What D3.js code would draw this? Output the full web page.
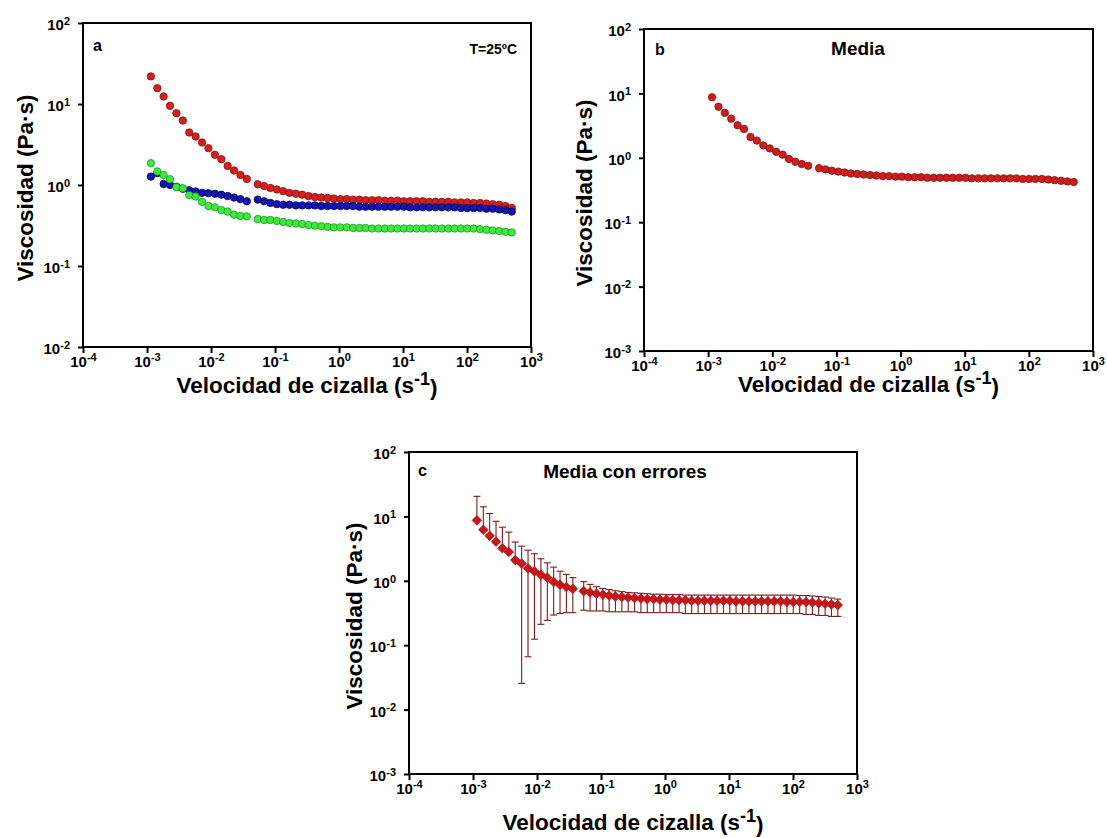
<!DOCTYPE html>
<html>
<head>
<meta charset="utf-8">
<script src="https://cdn.jsdelivr.net/npm/d3@7"></script>
<style>
  body { margin: 0; background: #fff; }
  svg text { font-family: "Liberation Sans", Arial, sans-serif; font-weight: bold; fill: #000; }
</style>
</head>
<body>
<svg id="fig" width="1107" height="838"></svg>
<script>
// Shear rate (1/s): low-rate sweep followed by the main sweep
const shearRate = [
  0.00115, 0.00145, 0.00182, 0.00229, 0.00288, 0.00363, 0.00457, 0.00575,
  0.00724, 0.00912, 0.0115, 0.0145, 0.0182, 0.0229, 0.0288, 0.0363,
  0.0537, 0.0675, 0.0849, 0.107, 0.134, 0.168, 0.212, 0.266, 0.334, 0.420,
  0.528, 0.663, 0.834, 1.05, 1.32, 1.66, 2.08, 2.61, 3.29, 4.13, 5.19, 6.52,
  8.20, 10.3, 12.9, 16.3, 20.5, 25.7, 32.3, 40.6, 51.0, 64.1, 80.5, 101,
  127, 160, 201, 252, 318, 399, 501
];

// Viscosity (Pa·s) of the three samples
const etaRed = [
  21.9, 15.7, 12.4, 9.5, 7.7, 6.25, 4.45, 3.97, 3.35, 2.85, 2.36, 2.08, 1.72, 1.51, 1.33, 1.19,
  1.02, 0.97, 0.92, 0.88, 0.84, 0.80, 0.78, 0.76, 0.73, 0.71, 0.70, 0.69, 0.68, 0.67, 0.67,
  0.66, 0.66, 0.65, 0.65, 0.65, 0.64, 0.64, 0.64, 0.63, 0.63, 0.63, 0.63, 0.62, 0.62, 0.62,
  0.62, 0.61, 0.61, 0.61, 0.60, 0.60, 0.59, 0.58, 0.57, 0.55, 0.52
];
const etaBlue = [
  1.27, 1.40, 1.03, 1.00, 0.95, 0.90, 0.86, 0.83, 0.80, 0.79, 0.78, 0.76, 0.73, 0.70, 0.67, 0.63,
  0.66, 0.63, 0.60, 0.58, 0.57, 0.57, 0.56, 0.56, 0.56, 0.56, 0.55, 0.55, 0.55, 0.55, 0.55,
  0.55, 0.54, 0.54, 0.54, 0.54, 0.54, 0.54, 0.54, 0.54, 0.53, 0.53, 0.53, 0.53, 0.53, 0.53,
  0.53, 0.53, 0.52, 0.52, 0.52, 0.52, 0.51, 0.51, 0.50, 0.49, 0.47
];
const etaGreen = [
  1.86, 1.47, 1.33, 1.18, 0.94, 0.91, 0.75, 0.72, 0.62, 0.55, 0.53, 0.49, 0.47, 0.43, 0.415, 0.41,
  0.38, 0.37, 0.37, 0.36, 0.35, 0.34, 0.335, 0.33, 0.32, 0.315, 0.31, 0.305, 0.30, 0.30, 0.30,
  0.295, 0.295, 0.295, 0.29, 0.29, 0.29, 0.29, 0.29, 0.29, 0.29, 0.29, 0.29, 0.29, 0.29, 0.29,
  0.29, 0.29, 0.29, 0.29, 0.29, 0.285, 0.28, 0.275, 0.27, 0.265, 0.26
];

// Mean viscosity and the ends of its error bars (null: lower end below zero)
const etaMean = [
  8.7, 6.2, 5.0, 4.05, 3.2, 2.8, 2.1, 1.85, 1.56, 1.4, 1.24, 1.12, 0.96, 0.87, 0.80, 0.75,
  0.69, 0.66, 0.63, 0.61, 0.59, 0.57, 0.56, 0.55, 0.54, 0.53, 0.52, 0.52, 0.51, 0.51, 0.50,
  0.50, 0.50, 0.49, 0.49, 0.49, 0.49, 0.49, 0.49, 0.49, 0.48, 0.48, 0.48, 0.48, 0.48, 0.48,
  0.48, 0.48, 0.47, 0.47, 0.47, 0.47, 0.46, 0.45, 0.44, 0.43, 0.42
];
const errUpper = [
  20.5, 14.1, 11.1, 8.4, 6.8, 5.7, 4.0, 3.45, 2.99, 2.63, 2.2, 1.9, 1.63, 1.41, 1.26, 1.12,
  0.97, 0.88, 0.81, 0.76, 0.73, 0.70, 0.68, 0.66, 0.65, 0.64, 0.63, 0.62, 0.62, 0.61, 0.61,
  0.61, 0.60, 0.60, 0.60, 0.60, 0.60, 0.60, 0.60, 0.60, 0.60, 0.60, 0.60, 0.60, 0.60, 0.60,
  0.60, 0.60, 0.60, 0.60, 0.59, 0.59, 0.58, 0.57, 0.56, 0.54, 0.52
];
const errLower = [
  null, null, null, null, null, null, null, 0.0255, 0.066, 0.124, 0.211, 0.243, 0.294, 0.31, 0.32, 0.32,
  0.35, 0.34, 0.34, 0.34, 0.33, 0.33, 0.33, 0.33, 0.33, 0.32, 0.32, 0.32, 0.32, 0.32, 0.32,
  0.32, 0.31, 0.31, 0.31, 0.31, 0.31, 0.31, 0.31, 0.31, 0.31, 0.31, 0.31, 0.31, 0.31, 0.31,
  0.31, 0.31, 0.31, 0.31, 0.31, 0.30, 0.30, 0.29, 0.29, 0.28, 0.28
];

// Tick values
const xTicks = [1e-4, 1e-3, 1e-2, 1e-1, 1e0, 1e1, 1e2, 1e3];
const yTicksA = [1e-2, 1e-1, 1e0, 1e1, 1e2];
const yTicksBC = [1e-3, 1e-2, 1e-1, 1e0, 1e1, 1e2];

const svg = d3.select("#fig");

// "10" with a raised exponent
function powerLabel(sel) {
  sel.each(function (d) {
    const t = d3.select(this);
    t.text(null);
    const e = Math.round(Math.log10(d));
    t.append("tspan").text("10");
    t.append("tspan").attr("dy", "-0.5em").attr("font-size", "11px").text(String(e));
  });
}

function makePanel(cfg) {
  const x = d3.scaleLog().domain([1e-4, 1e3]).range([cfg.left, cfg.right]);
  const y = d3.scaleLog().domain(cfg.yDomain).range([cfg.bottom, cfg.top]);
  const g = svg.append("g");

  const xAxis = g.append("g")
    .attr("transform", `translate(0,${cfg.bottom})`)
    .call(d3.axisBottom(x).tickValues(xTicks).tickSize(6).tickSizeOuter(0).tickPadding(3));
  xAxis.selectAll(".tick text").attr("font-size", "15px").call(powerLabel);

  const yAxis = g.append("g")
    .attr("transform", `translate(${cfg.left},0)`)
    .call(d3.axisLeft(y).tickValues(cfg.yTicks).tickSize(5).tickSizeOuter(0).tickPadding(8));
  yAxis.selectAll(".tick text").attr("font-size", "15px").attr("dy", "0.45em").call(powerLabel);

  [xAxis, yAxis].forEach(a => {
    a.select(".domain").remove();
    a.selectAll(".tick line").attr("stroke", "#000").attr("stroke-width", 2);
    a.selectAll("text").attr("fill", "#000");
  });

  g.append("rect")
    .attr("x", cfg.left).attr("y", cfg.top)
    .attr("width", cfg.right - cfg.left).attr("height", cfg.bottom - cfg.top)
    .attr("fill", "none").attr("stroke", "#000").attr("stroke-width", 2);

  // axis titles
  g.append("text")
    .attr("transform", `translate(${cfg.yTitleX},${(cfg.top + cfg.bottom) / 2 + 3}) rotate(-90)`)
    .attr("text-anchor", "middle").attr("font-size", "22.5px")
    .text("Viscosidad (Pa·s)");

  const xt = g.append("text")
    .attr("x", (cfg.left + cfg.right) / 2).attr("y", cfg.xTitleY)
    .attr("text-anchor", "middle").attr("font-size", "22.5px");
  xt.append("tspan").text("Velocidad de cizalla (s");
  xt.append("tspan").attr("dy", "-0.42em").attr("font-size", "18px").text("-1");
  xt.append("tspan").attr("dy", "0.42em").text(")");

  return { g, x, y };
}

function circles(p, values, fill, stroke) {
  p.g.append("g").selectAll("circle")
    .data(shearRate.map((s, i) => [s, values[i]]))
    .join("circle")
    .attr("cx", d => p.x(d[0])).attr("cy", d => p.y(d[1]))
    .attr("r", 3.7)
    .attr("fill", fill).attr("stroke", stroke).attr("stroke-width", 0.8);
}

// ---- panel a: three samples ----
const pa = makePanel({
  left: 83, right: 531, top: 23, bottom: 347, yDomain: [1e-2, 1e2], yTicks: yTicksA,
  yTitleX: 33, xTitleY: 393
});
circles(pa, etaRed, "#d41f1f", "#8a1010");
circles(pa, etaBlue, "#1414b0", "#05055e");
circles(pa, etaGreen, "#3fe83f", "#1c9a1c");
pa.g.append("text").attr("x", 93).attr("y", 51).attr("font-size", "16px").text("a");
pa.g.append("text").attr("x", 517).attr("y", 54).attr("text-anchor", "end")
  .attr("font-size", "14px").text("T=25ºC");

// ---- panel b: mean ----
const pb = makePanel({
  left: 644, right: 1093, top: 29, bottom: 351, yDomain: [1e-3, 1e2], yTicks: yTicksBC,
  yTitleX: 592, xTitleY: 392
});
circles(pb, etaMean, "#cf1d1d", "#861010");
pb.g.append("text").attr("x", 655).attr("y", 55).attr("font-size", "16px").text("b");
pb.g.append("text").attr("x", 858).attr("y", 55).attr("text-anchor", "middle")
  .attr("font-size", "19px").text("Media");

// ---- panel c: mean with error bars ----
const pc = makePanel({
  left: 409, right: 857, top: 452, bottom: 774, yDomain: [1e-3, 1e2], yTicks: yTicksBC,
  yTitleX: 362, xTitleY: 830
});
const errColor = "#7a1c1c";
const bars = pc.g.append("g").attr("stroke", errColor).attr("stroke-width", 1.1).attr("fill", "none");
shearRate.forEach((s, i) => {
  const cx = pc.x(s);
  const top = pc.y(errUpper[i]);
  const bot = errLower[i] == null ? pc.y(etaMean[i]) : pc.y(errLower[i]);
  bars.append("line").attr("x1", cx).attr("x2", cx).attr("y1", top).attr("y2", bot);
  bars.append("line").attr("x1", cx - 3.5).attr("x2", cx + 3.5).attr("y1", top).attr("y2", top);
  if (errLower[i] != null) {
    bars.append("line").attr("x1", cx - 3.5).attr("x2", cx + 3.5).attr("y1", bot).attr("y2", bot);
  }
});
pc.g.append("g").selectAll("path")
  .data(shearRate.map((s, i) => [s, etaMean[i]]))
  .join("path")
  .attr("transform", d => `translate(${pc.x(d[0])},${pc.y(d[1])})`)
  .attr("d", d3.symbol(d3.symbolDiamond2, 60))
  .attr("fill", "#c8161b").attr("stroke", "#9a1010").attr("stroke-width", 0.6);
pc.g.append("text").attr("x", 418).attr("y", 476).attr("font-size", "16px").text("c");
pc.g.append("text").attr("x", 625).attr("y", 478).attr("text-anchor", "middle")
  .attr("font-size", "19px").text("Media con errores");
</script>
</body>
</html>
